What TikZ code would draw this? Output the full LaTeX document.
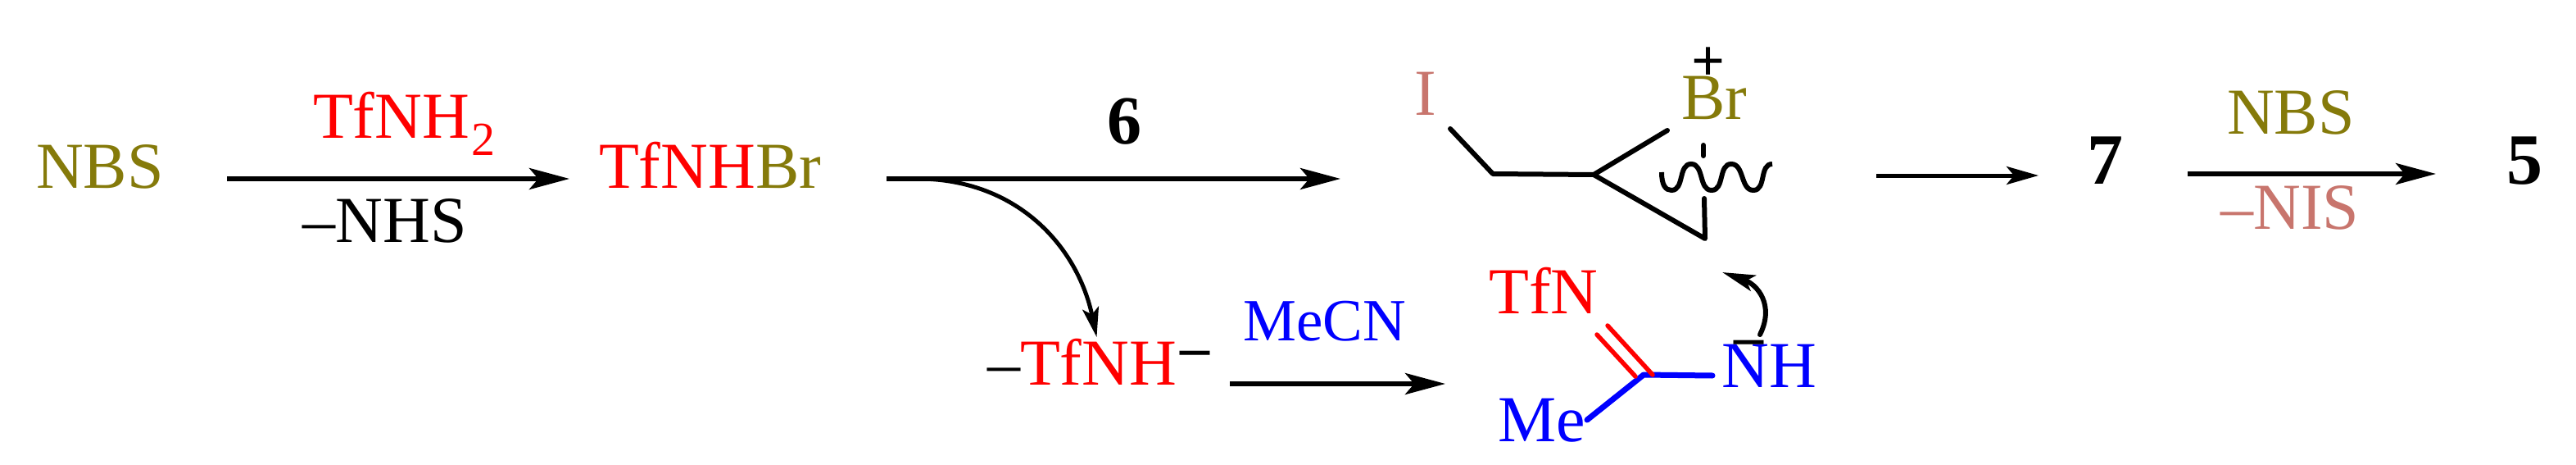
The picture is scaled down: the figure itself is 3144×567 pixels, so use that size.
\documentclass[tikz,border=0pt]{standalone}
\usepackage{fontspec}
\setmainfont{Liberation Serif}
\usetikzlibrary{arrows.meta}
\definecolor{brolive}{HTML}{857A0A}
\definecolor{irose}{HTML}{C8756D}
\tikzset{
  lab/.style={inner sep=0pt,outer sep=0pt,anchor=base,font=\fontsize{80}{96}\selectfont},
  labw/.style={lab,anchor=base west},
  smalllab/.style={lab,font=\fontsize{73}{88}\selectfont},
  numlab/.style={lab,font=\fontsize{88}{100}\selectfont\bfseries},
  chargelab/.style={lab,font=\fontsize{72}{84}\selectfont\bfseries},
  bigarrow/.style={line width=5.5pt,-{Stealth[length=49pt,width=26pt,inset=11pt]}},
  midarrow/.style={line width=5pt,-{Stealth[length=39pt,width=22pt,inset=9pt]}},
  curvearrow/.style={line width=5pt,-{Stealth[length=36pt,width=20pt,inset=8pt]}},
  pusharrow/.style={line width=6pt,line cap=round,-{Stealth[length=40pt,width=20pt,inset=9pt]}},
  bond/.style={line width=6pt,line cap=round,line join=round},
  bluebond/.style={line width=7pt,line cap=round,line join=round,blue},
  redbond/.style={line width=5.5pt,line cap=round,red}
}
\begin{document}
\begin{tikzpicture}[x=1pt,y=-1pt]
\useasboundingbox (0,0) rectangle (3144,567);
% labels
\node[lab,text=brolive] (nbsa) at (122,229) {NBS};
\node[labw,text=red] (tfnhh) at (382,168) {TfNH};
\node[lab,text=red,font=\fontsize{58}{70}\selectfont] (two) at (590,189) {2};
\node[lab] (mnhs) at (470,295) {–NHS};
\node[labw] (tfnhbr) at (731,229) {\textcolor{red}{TfNH}\textcolor{brolive}{Br}};
\node[numlab,font=\fontsize{84}{100}\selectfont\bfseries] (six) at (1372,175) {6};
\node[lab,text=irose] (iod) at (1740,140) {I};
\node[lab,text=brolive] (brp) at (2092,146) {Br};
\node[chargelab] (plus) at (2085,99) {+};
\node[numlab] (seven) at (2569,224) {7};
\node[lab,text=brolive] (nbsb) at (2796,163) {NBS};
\node[lab,text=irose] (mnis) at (2795,279) {–NIS};
\node[numlab] (five) at (3081,224) {5};
\node[labw] (anion) at (1205,469) {–\textcolor{red}{TfNH}};
\node[chargelab] (anionm) at (1458,447) {–};
\node[smalllab,text=blue] (mecn) at (1617,415) {MeCN};
\node[lab,text=red] (tfn) at (1884,382) {TfN};
\node[lab,text=blue] (nh) at (2159,472) {NH};
\node[chargelab] (nhm) at (2134,434) {–};
\node[lab,text=blue] (me) at (1882,538) {Me};
% arrow ends
\coordinate (a1s) at (277,218);
\coordinate (a1e) at (695,218);
\coordinate (a2s) at (1082,218);
\coordinate (a2e) at (1636,218);
\coordinate (c1s) at (1115,218);
\coordinate (c1e) at (1338.5,411);
\coordinate (a3s) at (1501,468);
\coordinate (a3e) at (1764,468);
\coordinate (a4s) at (2290,214);
\coordinate (a4e) at (2488,214);
\coordinate (a5s) at (2670,212);
\coordinate (a5e) at (2973,212);
\coordinate (p1s) at (2148,408);
\coordinate (p1e) at (2102,332);
% reaction arrows
\draw[bigarrow] (a1s) -- (a1e);
\draw[bigarrow] (a2s) -- (a2e);
\draw[curvearrow] (c1s) .. controls (1240,216) and (1315,300) .. (c1e);
\draw[bigarrow] (a3s) -- (a3e);
\draw[midarrow] (a4s) -- (a4e);
\draw[bigarrow] (a5s) -- (a5e);
% intermediate skeleton
\coordinate (i1) at (1770,157);
\coordinate (i2) at (1822,212);
\coordinate (i3) at (1945,213);
\coordinate (i4) at (2035,159);
\coordinate (i5) at (2081,291);
\coordinate (i6) at (2080,242);
\coordinate (i7) at (2079,177);
\coordinate (i8) at (2079,190);
\draw[bond] (i1) -- (i2) -- (i3) -- (i4);
\draw[bond] (i3) -- (i5) -- (i6);
\draw[bond] (i7) -- (i8);
\draw[line width=6pt,line cap=butt] (2028,210)
  .. controls (2028,226) and (2033,232) .. (2040,232)
  .. controls (2056,232) and (2048,200) .. (2064,200)
  .. controls (2080,200) and (2073,232) .. (2089,232)
  .. controls (2105,232) and (2097,200) .. (2113,200)
  .. controls (2129,200) and (2124,232) .. (2140,232)
  .. controls (2156,232) and (2147,200) .. (2163,200);
% amidine fragment
\coordinate (c0) at (2006,457);
\coordinate (cn) at (2090,458);
\coordinate (cme) at (1937,512);
\coordinate (d1a) at (1962,397);
\coordinate (d1b) at (2017,457);
\coordinate (d2a) at (1949,408);
\coordinate (d2b) at (1996,459);
\draw[bluebond] (cme) -- (c0) -- (cn);
\draw[redbond] (d1a) -- (d1b);
\draw[redbond] (d2a) -- (d2b);
\draw[pusharrow] (p1s) .. controls (2166,372) and (2145,347) .. (p1e);
\end{tikzpicture}
\end{document}
